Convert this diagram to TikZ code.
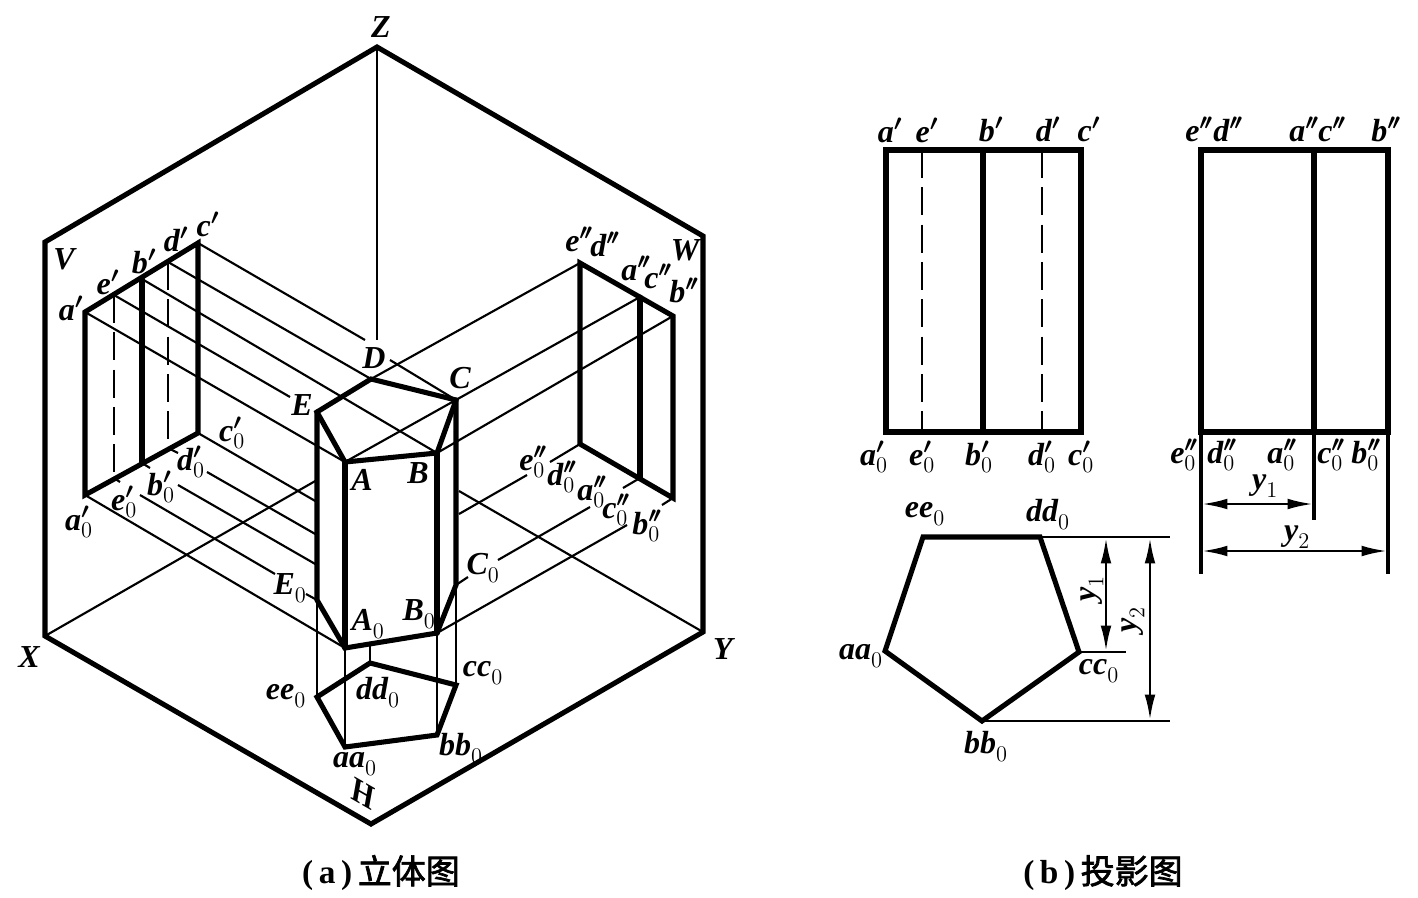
\documentclass[tikz,border=0pt]{standalone}
\usepackage{fix-cm}
\usepackage{fontspec}
\usetikzlibrary{arrows.meta}
\newfontfamily\cjk[FakeBold=2]{Noto Sans CJK SC}
\newfontfamily\lbfont{Liberation Serif}
\newcommand\bi[1]{{\lbfont\bfseries\itshape #1}}
\newcommand\pa{\mbox{\boldmath$\scriptstyle\prime$}}
\newcommand\pb{\mbox{\boldmath$\scriptstyle\prime\mkern-2mu\prime$}}
\newcommand\lb[3]{\bi{#1}$^{#2}_{#3}$}
\tikzset{
  heavy/.style={line width=3.8pt,line join=miter,line cap=round},
  mid/.style={line width=2.3pt},
  fine/.style={line width=1.6pt},
  hid/.style={line width=2.2pt,dash pattern=on 21pt off 7pt},
  hidthin/.style={line width=1.5pt,dash pattern=on 21pt off 7pt},
  dim/.style={line width=1.9pt,{Latex[length=19pt,width=8pt]}-{Latex[length=19pt,width=8pt]}},
  tx/.style={inner sep=0pt,font=\fontsize{24}{26}\selectfont},
  captxt/.style={inner sep=0pt,font=\fontsize{25}{26}\selectfont\lbfont\bfseries},
}
\begin{document}
\begin{tikzpicture}[x=0.75pt,y=-0.75pt]
\useasboundingbox (0,0) rectangle (1418,897);
% ---- coordinates: frame
\coordinate (Z) at (377,47);
\coordinate (TL) at (45,242);
\coordinate (XX) at (45,636);
\coordinate (BB) at (371,824);
\coordinate (YY) at (703,632);
\coordinate (TR) at (703,236);
\coordinate (Zend) at (377,340);
\coordinate (Xend) at (317,480);
\coordinate (Yend) at (459,491);
% V plane
\coordinate (a1) at (85,312);
\coordinate (e1) at (114,295);
\coordinate (b1) at (142,279);
\coordinate (d1) at (168,262);
\coordinate (c1) at (198,243);
\coordinate (a10) at (85,495);
\coordinate (e10) at (114,478);
\coordinate (b10) at (142,463);
\coordinate (d10) at (168,448);
\coordinate (c10) at (198,433);
% W plane
\coordinate (ed2) at (580,263);
\coordinate (ac2) at (640,297);
\coordinate (b2) at (673,316);
\coordinate (ed20) at (580,444);
\coordinate (ac20) at (640,478);
\coordinate (b20) at (673,498);
% prism
\coordinate (A) at (345,462);
\coordinate (B) at (437,453);
\coordinate (C) at (456,400);
\coordinate (D) at (371,379);
\coordinate (E) at (317,412);
\coordinate (A0) at (345,648);
\coordinate (B0) at (437,633);
\coordinate (C0) at (456,585);
\coordinate (E0) at (317,600);
\coordinate (aa) at (345,747);
\coordinate (bb) at (437,735);
\coordinate (cc) at (456,685);
\coordinate (dd) at (370,663);
\coordinate (ee) at (317,697);
\coordinate (ABm) at (370,644);
% gaps
\coordinate (g1) at (290,397);
\coordinate (g2a) at (365,340);
\coordinate (g2b) at (390,360);
\coordinate (g3a) at (150,468);
\coordinate (g3b) at (178,485);
\coordinate (g3c) at (317,565);
\coordinate (g4a) at (178,453);
\coordinate (g4b) at (207,472);
\coordinate (g4c) at (317,535);
\coordinate (g5a) at (120,482);
\coordinate (g5b) at (140,495);
\coordinate (g5c) at (275,574);
\coordinate (g5d) at (306,594);
\coordinate (g6) at (317,502);
\coordinate (h1a) at (550,462);
\coordinate (h1b) at (527,475);
\coordinate (h1c) at (459,514);
\coordinate (h2a) at (623,488);
\coordinate (h2b) at (590,507);
\coordinate (h2c) at (498,560);
\coordinate (h2d) at (468,577);
\coordinate (h3a) at (662,505);
\coordinate (h3b) at (627,525);
% frame
\draw[heavy] (Z)--(TL)--(XX)--(BB)--(YY)--(TR)--cycle;
\draw[fine] (Z)--(Zend);
\draw[fine] (XX)--(Xend);
\draw[fine] (YY)--(Yend);
% projectors
\draw[fine] (a1)--(A);
\draw[fine] (e1)--(g1);
\draw[fine] (b1)--(B);
\draw[fine] (d1)--(D);
\draw[fine] (c1)--(g2a);
\draw[fine] (g2b)--(C);
\draw[fine] (a10)--(A0);
\draw[fine] (e10)--(g5a) (g5b)--(g5c) (g5d)--(E0);
\draw[fine] (b10)--(g3a) (g3b)--(g3c);
\draw[fine] (d10)--(g4a) (g4b)--(g4c);
\draw[fine] (c10)--(g6);
\draw[fine] (ed2)--(D);
\draw[fine] (ac2)--(A);
\draw[fine] (b2)--(B);
\draw[fine] (ed20)--(h1a) (h1b)--(h1c);
\draw[fine] (ac20)--(h2a) (h2b)--(h2c) (h2d)--(C0);
\draw[fine] (b20)--(h3a) (h3b)--(B0);
% V & W rectangles
\draw[heavy] (a10)--(a1)--(c1)--(c10)--cycle;
\draw[heavy] (b1)--(b10);
\draw[hid] (e1)--(e10);
\draw[hid] (d1)--(d10);
\draw[heavy] (ed20)--(ed2)--(b2)--(b20)--cycle;
\draw[heavy] (ac2)--(ac20);
% prism
\draw[fine] (E0)--(ee);
\draw[fine] (A0)--(aa);
\draw[fine] (B0)--(bb);
\draw[fine] (C0)--(cc);
\draw[fine] (ABm)--(dd);
\draw[heavy] (A)--(B)--(C)--(D)--(E)--cycle;
\draw[heavy] (E)--(E0)--(A0)--(B0)--(C0)--(C);
\draw[heavy] (A)--(A0);
\draw[heavy] (B)--(B0);
\draw[heavy] (aa)--(bb)--(cc)--(dd)--(ee)--cycle;
% labels left
\node[tx] (lZ) at (381,27) {\bi{Z}};
\node[tx] (lV) at (64,259) {\bi{V}};
\node[tx] (lW) at (685,250) {\bi{W}};
\node[tx] (lX) at (29,657) {\bi{X}};
\node[tx] (lY) at (723,649) {\bi{Y}};
\node[tx,rotate=-30,xslant=-0.36] (lH) at (363,794) {{\lbfont\bfseries H}};
\node[tx] (la1) at (71,312) {\lb{a}{\pa}{}};
\node[tx] (le1) at (108,286) {\lb{e}{\pa}{}};
\node[tx] (lb1) at (144,265) {\lb{b}{\pa}{}};
\node[tx] (ld1) at (176,243) {\lb{d}{\pa}{}};
\node[tx] (lc1) at (208,228) {\lb{c}{\pa}{}};
\node[tx] (la10) at (79,522) {\lb{a}{\pa}{0}};
\node[tx] (le10) at (124,502) {\lb{e}{\pa}{0}};
\node[tx] (lb10) at (161,487) {\lb{b}{\pa}{0}};
\node[tx] (ld10) at (191,462) {\lb{d}{\pa}{0}};
\node[tx] (lc10) at (232,433) {\lb{c}{\pa}{0}};
\node[tx] (lE) at (302,405) {\bi{E}};
\node[tx] (lD) at (374,358) {\bi{D}};
\node[tx] (lC) at (460,378) {\bi{C}};
\node[tx] (lA) at (362,480) {\bi{A}};
\node[tx] (lB) at (418,473) {\bi{B}};
\node[tx] (lE0) at (290,588) {\lb{E}{}{0}};
\node[tx] (lA0) at (368,624) {\lb{A}{}{0}};
\node[tx] (lB0) at (419,614) {\lb{B}{}{0}};
\node[tx] (lC0) at (483,568) {\lb{C}{}{0}};
\node[tx] (lee) at (286,696) {\lb{ee}{}{0}};
\node[tx] (ldd) at (378,692) {\lb{dd}{}{0}};
\node[tx] (lcc) at (483,673) {\lb{cc}{}{0}};
\node[tx] (lbb) at (461,748) {\lb{bb}{}{0}};
\node[tx] (laa) at (355,764) {\lb{aa}{}{0}};
\node[tx] (le2) at (579,243) {\lb{e}{\pb}{}};
\node[tx] (ld2) at (605,248) {\lb{d}{\pb}{}};
\node[tx] (la2) at (636,272) {\lb{a}{\pb}{}};
\node[tx] (lc2) at (658,280) {\lb{c}{\pb}{}};
\node[tx] (lb2) at (684,294) {\lb{b}{\pb}{}};
\node[tx] (le20) at (533,462) {\lb{e}{\pb}{0}};
\node[tx] (ld20) at (562,477) {\lb{d}{\pb}{0}};
\node[tx] (la20) at (592,492) {\lb{a}{\pb}{0}};
\node[tx] (lc20) at (616,510) {\lb{c}{\pb}{0}};
\node[tx] (lb20) at (647,526) {\lb{b}{\pb}{0}};
\node[captxt] (capa) at (381,873) {(\,a\,)\,{\cjk\mdseries\fontsize{25.5}{26}\selectfont 立体图}};
% --- right: front view
\coordinate (fa) at (886,150);
\coordinate (fe) at (922,150);
\coordinate (fb) at (983,150);
\coordinate (fd) at (1042,150);
\coordinate (fc) at (1081,150);
\coordinate (fa0) at (886,432);
\coordinate (fe0) at (922,432);
\coordinate (fb0) at (983,432);
\coordinate (fd0) at (1042,432);
\coordinate (fc0) at (1081,432);
\draw[heavy] (fa)--(fc)--(fc0)--(fa0)--cycle;
\draw[heavy] (fb)--(fb0);
\draw[hid] (fe)--(fe0);
\draw[hidthin] (fd)--(fd0);
% side view
\coordinate (sl) at (1201,150);
\coordinate (sm) at (1314,150);
\coordinate (sr) at (1388,150);
\coordinate (sl0) at (1201,432);
\coordinate (sm0) at (1314,432);
\coordinate (sr0) at (1388,432);
\coordinate (slx) at (1201,574);
\coordinate (smx) at (1314,520);
\coordinate (srx) at (1388,574);
\draw[heavy] (sl)--(sr)--(sr0)--(sl0)--cycle;
\draw[heavy] (sm)--(sm0);
\draw[mid] (sl0)--(slx);
\draw[mid] (sm0)--(smx);
\draw[mid] (sr0)--(srx);
\coordinate (y1l) at (1202,504);
\coordinate (y1r) at (1313,504);
\coordinate (y2l) at (1202,551);
\coordinate (y2r) at (1387,551);
\draw[dim] (y1l)--(y1r);
\draw[dim] (y2l)--(y2r);
% top view
\coordinate (pe) at (923,537);
\coordinate (pd) at (1040,537);
\coordinate (pc) at (1079,652);
\coordinate (pb) at (982,721);
\coordinate (pa) at (885,651);
\draw[heavy] (pe)--(pd)--(pc)--(pb)--(pa)--cycle;
\coordinate (xd) at (1170,537);
\coordinate (xc) at (1126,652);
\coordinate (xb) at (1170,721);
\draw[fine] (pd)--(xd);
\draw[fine] (pc)--(xc);
\draw[fine] (pb)--(xb);
\coordinate (v1t) at (1106,538);
\coordinate (v1b) at (1106,651);
\coordinate (v2t) at (1150,538);
\coordinate (v2b) at (1150,720);
\draw[dim] (v1t)--(v1b);
\draw[dim] (v2t)--(v2b);
% labels right
\node[tx] (fla) at (890,134) {\lb{a}{\pa}{}};
\node[tx] (fle) at (927,134) {\lb{e}{\pa}{}};
\node[tx] (flb) at (991,133) {\lb{b}{\pa}{}};
\node[tx] (fld) at (1048,133) {\lb{d}{\pa}{}};
\node[tx] (flc) at (1089,133) {\lb{c}{\pa}{}};
\node[tx] (fla0) at (874,457) {\lb{a}{\pa}{0}};
\node[tx] (fle0) at (922,457) {\lb{e}{\pa}{0}};
\node[tx] (flb0) at (979,457) {\lb{b}{\pa}{0}};
\node[tx] (fld0) at (1042,457) {\lb{d}{\pa}{0}};
\node[tx] (flc0) at (1081,457) {\lb{c}{\pa}{0}};
\node[tx] (sle) at (1199,133) {\lb{e}{\pb}{}};
\node[tx] (sld) at (1228,133) {\lb{d}{\pb}{}};
\node[tx] (sla) at (1304,133) {\lb{a}{\pb}{}};
\node[tx] (slc) at (1332,133) {\lb{c}{\pb}{}};
\node[tx] (slb) at (1386,133) {\lb{b}{\pb}{}};
\node[tx] (sle0) at (1184,455) {\lb{e}{\pb}{0}};
\node[tx] (sld0) at (1222,455) {\lb{d}{\pb}{0}};
\node[tx] (sla0) at (1282,455) {\lb{a}{\pb}{0}};
\node[tx] (slc0) at (1331,455) {\lb{c}{\pb}{0}};
\node[tx] (slb0) at (1366,455) {\lb{b}{\pb}{0}};
\node[tx] (ly1) at (1265,486) {\lb{y}{}{1}};
\node[tx] (ly2) at (1297,537) {\lb{y}{}{2}};
\node[tx,rotate=90] (vy1) at (1092,589) {\lb{y}{}{1}};
\node[tx,rotate=90] (vy2) at (1133,620) {\lb{y}{}{2}};
\node[tx] (pla) at (861,656) {\lb{aa}{}{0}};
\node[tx] (ple) at (925,514) {\lb{ee}{}{0}};
\node[tx] (pld) at (1048,514) {\lb{dd}{}{0}};
\node[tx] (plc) at (1099,671) {\lb{cc}{}{0}};
\node[tx] (plb) at (986,746) {\lb{bb}{}{0}};
\node[captxt] (capb) at (1103,873) {(\,b\,)\,{\cjk\mdseries\fontsize{25.5}{26}\selectfont 投影图}};
\end{tikzpicture}
\end{document}
